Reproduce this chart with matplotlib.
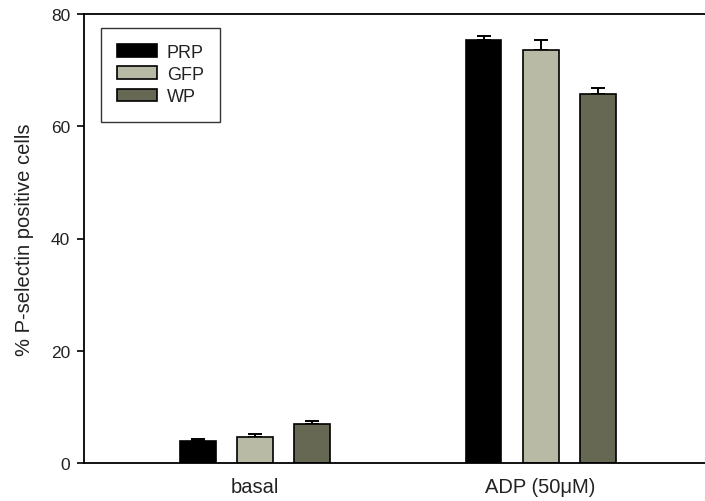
import matplotlib
matplotlib.use("Agg")
import matplotlib.pyplot as plt
import numpy as np

plt.rcParams['font.family'] = ['Liberation Sans', 'DejaVu Sans']

conditions = ["basal", "ADP (50\u03bcM)"]
series = ["PRP", "GFP", "WP"]
means = {
    "PRP": [4.0, 75.4],
    "GFP": [4.6, 73.5],
    "WP": [7.0, 65.8],
}
errors = {
    "PRP": [0.3, 0.6],
    "GFP": [0.6, 1.8],
    "WP": [0.4, 1.1],
}
colors = {"PRP": "#000000", "GFP": "#b9baa6", "WP": "#666853"}

fig = plt.figure(figsize=(7.05, 5.02), dpi=100)
ax = fig.add_axes([84 / 705, 38 / 502, 1 - 84 / 705, 449 / 502])

x = np.arange(len(conditions))
width = 0.125
step = 0.2
for i, name in enumerate(series):
    pos = x + (i - 1) * step
    ax.bar(pos, means[name], width, color=colors[name], edgecolor="black",
           linewidth=1.2, label=name, zorder=2)
    ax.errorbar(pos, means[name], yerr=[np.zeros(len(x)), errors[name]],
                fmt="none", ecolor="black", elinewidth=1.4, capsize=4.7,
                capthick=1.4, zorder=1)

ax.set_xlim(-0.598, 1.575)
ax.set_ylim(0, 80)
ax.set_yticks([0, 20, 40, 60, 80])
ax.set_xticks(x)
ax.set_xticklabels(conditions, fontsize=14.5, color="#222222")
ax.tick_params(axis="x", length=0, pad=10)
ax.tick_params(axis="y", labelsize=12.5, direction="out", length=5, width=1.2,
               labelcolor="#222222", pad=5)
ax.set_ylabel("% P-selectin positive cells", fontsize=14.5, labelpad=12,
              color="#222222")

ax.spines["right"].set_visible(False)
for s in ["left", "top", "bottom"]:
    ax.spines[s].set_linewidth(1.3)

leg = ax.legend(loc="upper left", bbox_to_anchor=(0.027, 0.969),
                borderaxespad=0, frameon=True, fancybox=False,
                edgecolor="black", fontsize=13, handlelength=2.2,
                handleheight=0.72, borderpad=0.9, labelspacing=0.28,
                handletextpad=0.55)
leg.get_frame().set_linewidth(1.0)
for t in leg.get_texts():
    t.set_color("#222222")

fig.savefig("out.png", dpi=100)
